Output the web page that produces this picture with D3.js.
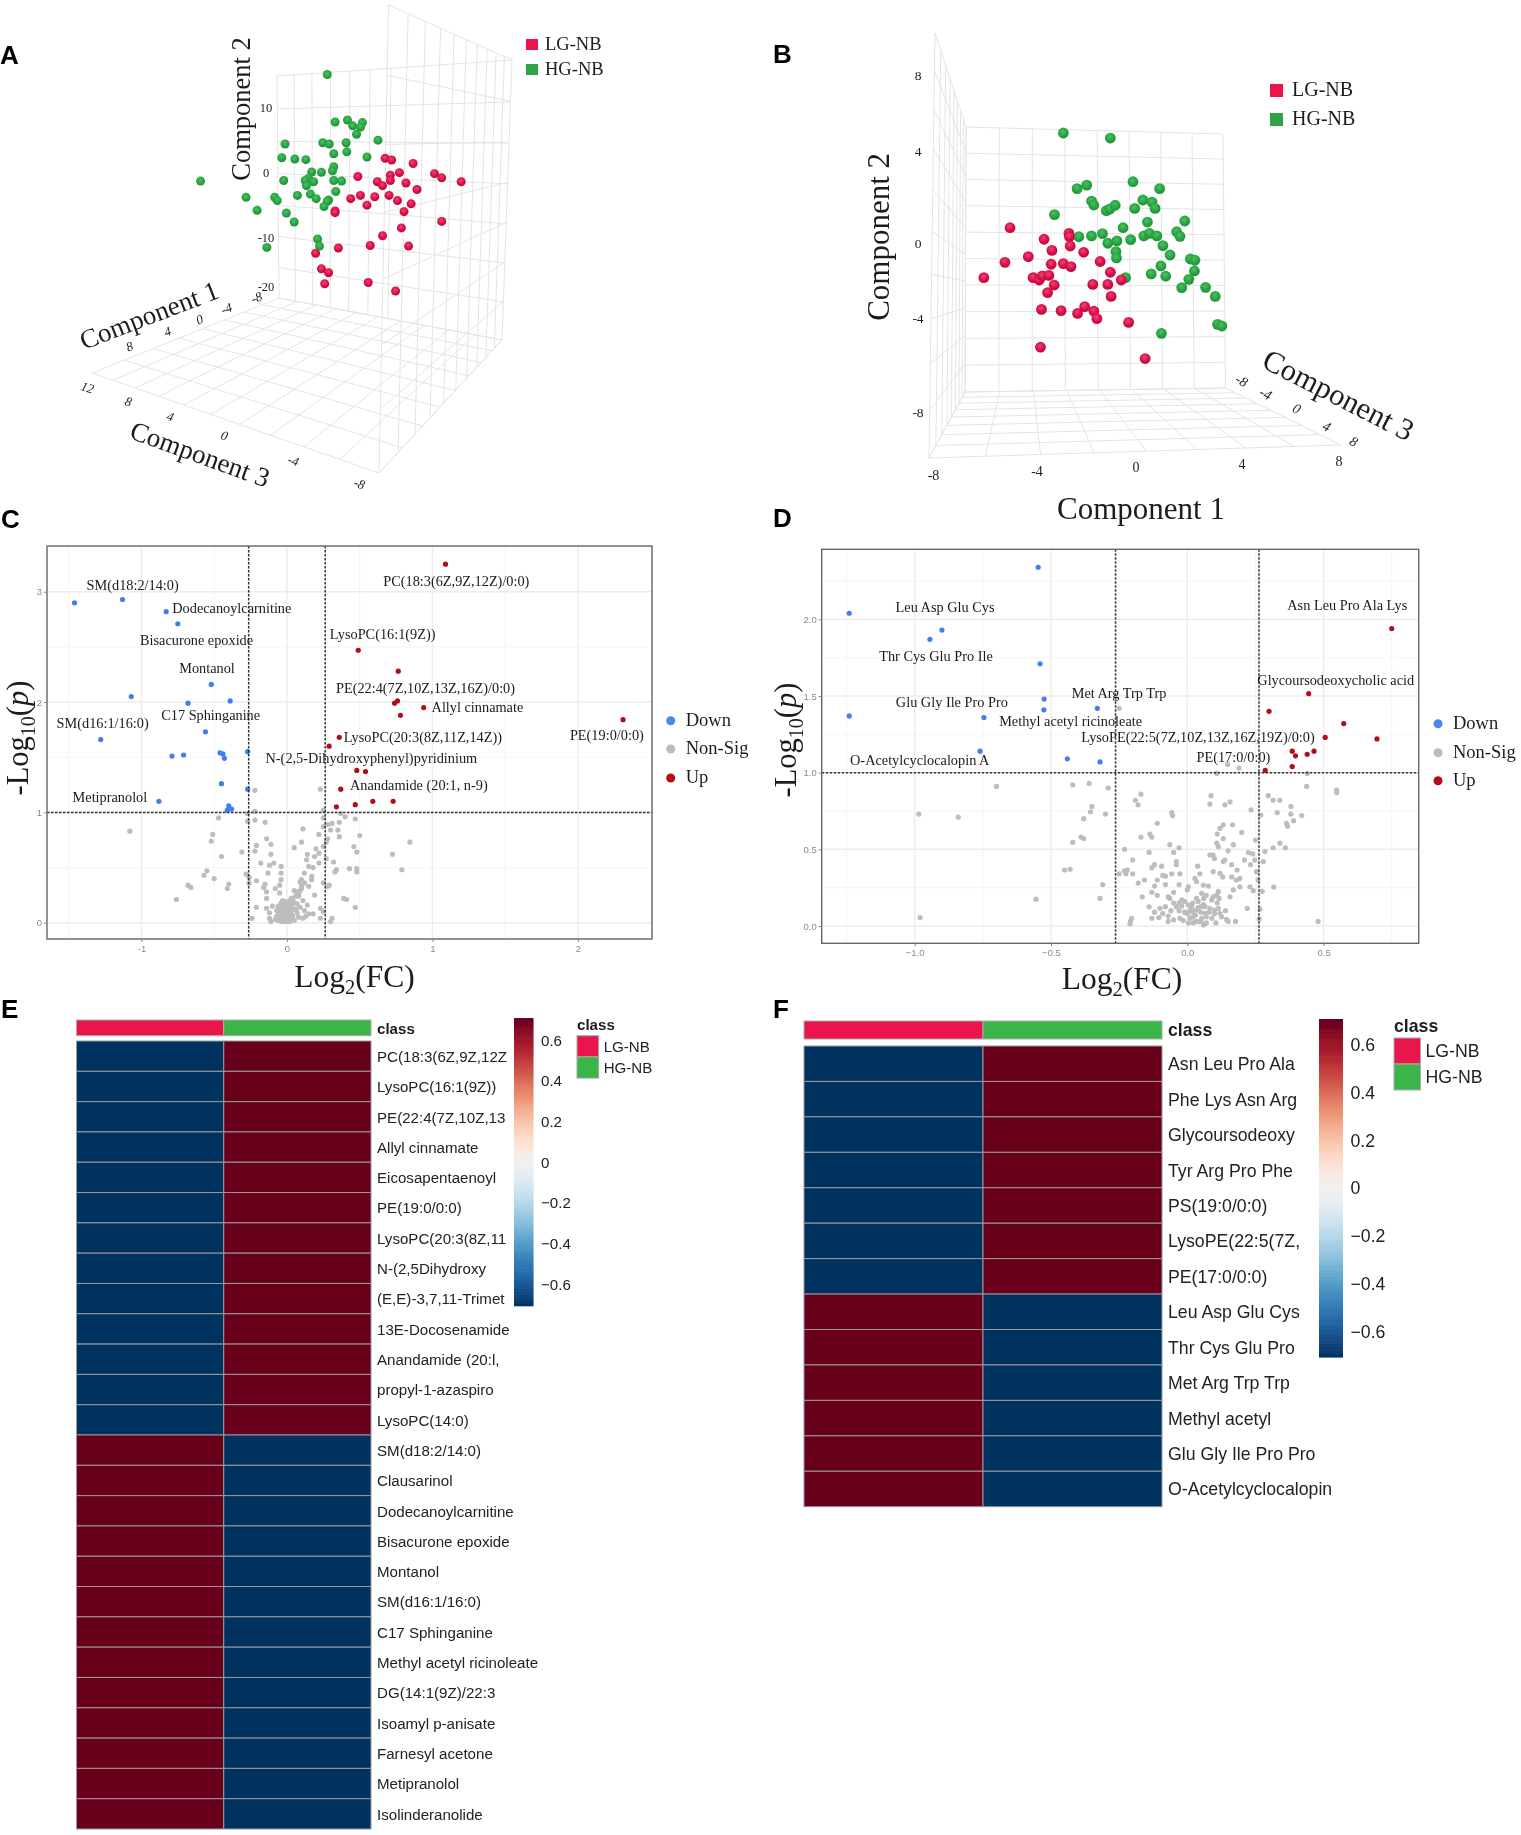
<!DOCTYPE html>
<html><head><meta charset="utf-8">
<script src="https://cdn.jsdelivr.net/npm/d3@7"></script>
<style>html,body{margin:0;padding:0;background:#fff}svg{display:block}</style>
</head><body><svg id="fig" width="1521" height="1835" xmlns="http://www.w3.org/2000/svg"></svg>
<script>
// ---------- Panel A: projected score positions [component 1, component 2]
const aGreen=[[4.2,15.2],[5.4,7.9],[7.3,8.2],[8.1,7.3],[9.6,7.8],[9.3,7.1],[8.7,6.0],[12.0,5.1],[7.1,4.7],[3.5,4.7],[4.5,4.5],[-2.3,4.5],[7.2,3.3],[5.2,3.0],[10.3,2.5],[-2.8,2.4],[-0.8,2.2],[0.9,2.1],[5.2,1.0],[5.0,0.4],[3.3,0.15],[1.8,0.2],[1.3,-0.8],[0.8,-1.1],[2.1,-1.3],[1.0,-1.9],[-2.5,-1.1],[5.2,-1.1],[6.4,-1.2],[-15.3,-1.2],[5.5,-2.8],[1.6,-3.2],[2.5,-3.9],[-0.4,-3.4],[-3.9,-3.7],[-3.5,-4.2],[-8.3,-3.7],[4.4,-4.1],[4.2,-4.3],[3.7,-5.1],[-6.6,-5.7],[-2.1,-6.1],[-0.9,-7.5],[2.7,-10.1],[3.0,-11.2],[-5.1,-11.4]];
const aRed=[[13.1,2.3],[14.1,2.05],[17.4,1.5],[15.3,0.1],[13.9,-0.3],[13.9,-1.1],[20.7,-0.05],[21.8,-0.7],[24.8,-1.3],[8.9,-0.5],[11.9,-1.3],[12.7,-1.9],[16.3,-1.5],[18,-2.5],[7.8,-3.9],[9.3,-3.4],[11.5,-3.6],[13.7,-3.4],[15,-4.2],[10.3,-4.9],[17.1,-4.7],[5.4,-5.8],[5.4,-6.05],[16,-5.9],[21.8,-7.4],[15.6,-8.4],[12.7,-9.6],[16.7,-11.2],[10.8,-11.1],[5.9,-11.5],[2.4,-12.3],[3.3,-14.7],[4.4,-15.3],[3.8,-17],[10.5,-16.8],[14.7,-18.1]];
// ---------- Panel B: projected score positions [component 1, component 2]
const bGreen=[[-2.86,5.3],[-1.01,5.06],[-0.12,2.98],[0.93,2.65],[-2.32,2.65],[-1.94,2.82],[-1.75,2.06],[-1.66,1.87],[-1.17,1.6],[-1.03,1.68],[-0.82,1.86],[0.27,2.11],[0.63,2.01],[0.75,1.71],[-0.05,1.71],[-3.21,1.41],[1.92,1.11],[0.45,1.06],[-0.51,0.79],[-2.25,0.36],[-1.75,0.4],[-1.32,0.51],[-1.11,0.05],[-0.75,0.16],[-0.21,0.22],[0.31,0.4],[0.53,0.52],[0.82,0.4],[1.6,0.6],[1.73,0.38],[1.06,-0.06],[-0.79,-0.35],[-0.77,-0.65],[1.34,-0.51],[2.14,-0.7],[2.32,-0.76],[0.98,-1.03],[2.3,-1.27],[0.6,-1.41],[1.17,-1.52],[-0.41,-1.59],[2.08,-1.67],[1.8,-2.06],[2.74,-2.05],[3.12,-2.48],[3.21,-3.81],[3.38,-3.89],[1,-4.24]];
const bRed=[[-4.96,0.79],[-2.64,0.52],[-2.62,0.36],[-3.62,0.24],[-2.59,-0.08],[-3.31,-0.29],[-2.06,-0.38],[-4.24,-0.59],[-5.16,-0.86],[-1.41,-0.82],[-3.34,-0.95],[-2.86,-0.92],[-2.56,-1.06],[-5.99,-1.59],[-4.05,-1.59],[-3.81,-1.7],[-3.69,-1.51],[-3.43,-1.48],[-1.01,-1.33],[-0.58,-1.7],[-3.22,-1.94],[-1.7,-1.91],[-1.11,-1.91],[-3.48,-2.3],[-0.98,-2.48],[-3.72,-3.1],[-2.95,-3.16],[-2.3,-3.29],[-2.02,-2.97],[-1.66,-3.18],[-1.54,-3.54],[-0.29,-3.72],[-3.76,-4.9],[0.36,-5.44]];
// ---------- Panel C: volcano [log2FC, -log10 p]
const cDown=[[-1.46,2.9],[-1.13,2.93],[-0.83,2.82],[-0.75,2.71],[-0.52,2.16],[-1.07,2.05],[-0.39,2.01],[-0.68,1.99],[-0.56,1.73],[-1.28,1.66],[-0.79,1.51],[-0.71,1.52],[-0.46,1.54],[-0.44,1.53],[-0.43,1.49],[-0.27,1.55],[-0.45,1.26],[-0.27,1.21],[-0.88,1.1],[-0.4,1.06],[-0.38,1.03],[-0.41,1.02]];
const cUp=[[1.09,3.25],[0.49,2.47],[0.765,2.28],[0.74,1.99],[0.76,2.01],[0.94,1.95],[0.78,1.88],[2.31,1.84],[0.36,1.68],[0.29,1.6],[0.48,1.38],[0.54,1.37],[0.37,1.21],[0.34,1.05],[0.47,1.07],[0.59,1.1],[0.73,1.1]];
const cNon=[[-1.08,0.83],[-0.22,1.2],[0.23,1.21],[-0.47,0.95],[-0.51,0.8],[-0.52,0.74],[-0.45,0.6],[-0.31,0.64],[-0.55,0.47],[-0.57,0.43],[-0.5,0.4],[-0.68,0.34],[-0.66,0.32],[-0.76,0.21],[-0.4,0.35],[-0.41,0.31],[-0.28,0.44],[-0.26,0.41],[-0.26,0.36],[-0.27,0.92],[-0.27,0.99],[-0.22,1.01],[-0.22,0.93],[-0.15,0.91],[-0.21,0.7],[-0.22,0.65],[-0.14,0.76],[-0.11,0.71],[-0.11,0.62],[-0.18,0.54],[-0.12,0.52],[-0.09,0.54],[-0.13,0.45],[-0.04,0.51],[-0.04,0.45],[-0.04,0.39],[-0.21,0.38],[-0.15,0.35],[-0.16,0.32],[-0.14,0.28],[-0.14,0.22],[-0.08,0.31],[-0.05,0.34],[-0.05,0.27],[-0.21,0.14],[-0.14,0.13],[-0.24,0.04],[-0.12,0.04],[-0.11,0.01],[0.05,0.68],[0.1,0.73],[0.11,0.85],[0.22,0.8],[0.25,0.87],[0.28,0.89],[0.31,0.9],[0.3,0.84],[0.28,0.76],[0.27,0.73],[0.25,0.69],[0.22,0.63],[0.19,0.6],[0.135,0.57],[0.15,0.51],[0.22,0.54],[0.27,0.58],[0.32,0.55],[0.34,0.48],[0.33,0.46],[0.43,0.49],[0.48,0.49],[0.48,0.46],[0.46,0.69],[0.48,0.64],[0.5,0.79],[0.47,0.94],[0.4,0.96],[0.36,0.91],[0.35,0.84],[0.36,0.78],[0.37,0.99],[0.25,1.02],[0.25,0.95],[0.845,0.73],[0.725,0.62],[0.79,0.48],[0.1,0.39],[0.17,0.42],[0.17,0.39],[0.15,0.33],[0.1,0.31],[0.07,0.28],[0.04,0.21],[0.08,0.24],[0.19,0.25],[0.28,0.33],[0.29,0.34],[0.25,0.36],[0.39,0.22],[0.41,0.21],[0.47,0.14],[0.23,0.13],[0.25,0.1],[0.15,0.08],[0.18,0.08],[0.11,0.04],[0.23,0.04],[0.3,0.01],[0.31,0.04],[0.18,0.5],[0.14,0.62],[0.2,0.67],[0.12,0.45],[0.09,0.37],
[-0.08,0.03],[-0.07,0.06],[-0.07,0.11],[-0.06,0.02],[-0.06,0.15],[-0.05,0.04],[-0.05,0.09],[-0.05,0.13],[-0.04,0.01],[-0.04,0.07],[-0.04,0.11],[-0.04,0.18],[-0.03,0.03],[-0.03,0.05],[-0.03,0.09],[-0.03,0.14],[-0.03,0.2],[-0.02,0.01],[-0.02,0.06],[-0.02,0.12],[-0.02,0.16],[-0.01,0.02],[-0.01,0.04],[-0.01,0.08],[-0.01,0.1],[-0.01,0.13],[-0.01,0.19],[0,0.01],[0,0.03],[0,0.06],[0,0.09],[0,0.11],[0,0.15],[0.01,0.02],[0.01,0.04],[0.01,0.07],[0.01,0.12],[0.01,0.17],[0.02,0.01],[0.02,0.05],[0.02,0.09],[0.02,0.14],[0.03,0.03],[0.03,0.08],[0.03,0.11],[0.03,0.16],[0.03,0.22],[0.04,0.06],[0.04,0.13],[0.05,0.18],[0.05,0.02],[0.06,0.12],[0.06,0.24],[0.07,0.09],[0.07,0.17],[0.08,0.26],[0.09,0.14],[0.09,0.29],[0.1,0.33],[0.11,0.2],[0.12,0.11],[0.13,0.06],[0.14,0.16],[0.12,0.36],[-0.1,0.15],[-0.12,0.09],[0.05,0.29],[0.02,0.2],[0.08,0.05]];
// ---------- Panel D: volcano [log2FC, -log10 p]
const dDown=[[-0.547,2.34],[-1.24,2.04],[-0.9,1.93],[-0.944,1.87],[-0.54,1.71],[-0.525,1.48],[-0.526,1.41],[-0.33,1.42],[-1.24,1.37],[-0.746,1.36],[-0.76,1.14],[-0.44,1.09],[-0.32,1.07]];
const dUp=[[0.75,1.94],[0.445,1.515],[0.3,1.4],[0.574,1.32],[0.506,1.23],[0.696,1.22],[0.385,1.14],[0.465,1.14],[0.44,1.12],[0.397,1.11],[0.385,1.04],[0.286,1.015]];
const dNon=[[-0.25,1.42],[-0.7,0.91],[-0.985,0.73],[-0.84,0.71],[-0.98,0.055],[-0.42,0.92],[-0.36,0.93],[-0.29,0.9],[-0.35,0.78],[-0.355,0.745],[-0.38,0.7],[-0.3,0.73],[-0.42,0.545],[-0.39,0.58],[-0.38,0.57],[-0.45,0.365],[-0.43,0.37],[-0.555,0.175],[-0.31,0.27],[-0.32,0.18],[-0.23,0.5],[-0.2,0.43],[-0.25,0.34],[-0.23,0.36],[-0.22,0.365],[-0.225,0.34],[-0.2,0.34],[-0.18,0.28],[-0.157,0.3],[-0.165,0.19],[-0.14,0.125],[-0.204,0.05],[-0.21,0.015],[-0.208,0.03],[-0.17,0.86],[-0.19,0.82],[-0.18,0.79],[-0.11,0.67],[-0.17,0.58],[-0.137,0.6],[-0.13,0.58],[-0.14,0.48],[-0.13,0.38],[-0.12,0.4],[-0.11,0.3],[-0.12,0.26],[-0.1,0.115],[-0.104,0.055],[-0.057,0.74],[-0.054,0.72],[-0.064,0.53],[-0.03,0.51],[-0.05,0.48],[-0.04,0.42],[-0.094,0.39],[-0.04,0.4],[-0.057,0.34],[-0.027,0.34],[-0.08,0.325],[-0.08,0.27],[0.004,0.256],[0,0.235],[-0.08,0.126],[-0.07,0.19],[-0.05,0.22],[-0.064,0.18],[-0.04,0.126],[-0.02,0.17],[-0.01,0.16],[0.004,0.137],[0.016,0.126],[0.02,0.093],[0.034,0.104],[0.05,0.126],[0.065,0.126],[0.083,0.115],[0.1,0.104],[0.114,0.115],[0.12,0.083],[0.126,0.06],[0.065,0.083],[0.053,0.05],[0.06,0.007],[0.04,0.028],[0.022,0.02],[0.004,0.02],[-0.015,0.035],[-0.027,0.05],[-0.05,0.04],[-0.07,0.065],[0.034,0.18],[0.053,0.213],[0.07,0.2],[0.095,0.19],[0.09,0.17],[0.114,0.224],[0.108,0.2],[0.059,0.267],[0.077,0.26],[0.034,0.29],[0.028,0.31],[0.046,0.34],[0.038,0.39],[0.095,0.354],[0.12,0.344],[0.13,0.32],[0.163,0.32],[0.18,0.3],[0.193,0.31],[0.183,0.365],[0.163,0.4],[0.132,0.42],[0.138,0.43],[0.095,0.463],[0.083,0.463],[0.1,0.44],[0.15,0.49],[0.108,0.54],[0.114,0.517],[0.169,0.53],[0.132,0.57],[0.11,0.6],[0.12,0.637],[0.132,0.66],[0.166,0.66],[0.2,0.61],[0.087,0.85],[0.083,0.795],[0.138,0.79],[0.157,0.81],[0.234,0.757],[0.27,0.724],[0.25,0.56],[0.224,0.478],[0.24,0.47],[0.21,0.43],[0.248,0.43],[0.232,0.4],[0.279,0.42],[0.285,0.485],[0.254,0.354],[0.26,0.3],[0.23,0.256],[0.193,0.256],[0.169,0.235],[0.157,0.19],[0.117,0.18],[0.242,0.23],[0.275,0.226],[0.22,0.115],[0.267,0.11],[0.264,0.046],[0.144,0.043],[0.15,0.03],[0.177,0.03],[0.105,0.02],[0.317,0.254],[0.315,0.51],[0.34,0.54],[0.36,0.51],[0.297,0.85],[0.315,0.82],[0.34,0.82],[0.38,0.78],[0.33,0.74],[0.38,0.73],[0.42,0.72],[0.39,0.687],[0.364,0.67],[0.368,0.65],[0.438,0.91],[0.548,0.887],[0.548,0.87],[0.44,0.995],[0.108,0.995],[0.148,1.054],[0.19,1.03],[0.48,0.03],
[-0.03,0.1],[-0.02,0.13],[0,0.08],[0.01,0.1],[0.02,0.15],[0.03,0.07],[0.04,0.12],[0.05,0.09],[0.06,0.14],[0.07,0.06],[0.08,0.09],[0.09,0.05],[0.1,0.08],[0.03,0.03],[0.05,0.03],[0.07,0.02],[0.01,0.05],[-0.01,0.09],[-0.03,0.15],[-0.06,0.1],[-0.05,0.15],[-0.09,0.08],[-0.12,0.09],[-0.07,0.03],[-0.13,0.05],[0.04,0.16],[0.06,0.18],[0.02,0.06],[0.11,0.15],[0.14,0.1],[-0.03,0.27],[-0.11,0.2],[-0.09,0.33],[-0.13,0.22]];
// ---------- Volcano labels [text, log2FC at text start, -log10 p at text middle]
const cLabels=[["SM(d18:2/14:0)",-1.377,3.06],["Dodecanoylcarnitine",-0.788,2.85],["Bisacurone epoxide",-1.01,2.56],["Montanol",-0.74,2.305],["C17 Sphinganine",-0.864,1.876],["SM(d16:1/16:0)",-1.583,1.81],["Metipranolol",-1.473,1.14],["N-(2,5-Dihydroxyphenyl)pyridinium",-0.147,1.49],["LysoPC(16:1(9Z))",0.295,2.61],["PE(22:4(7Z,10Z,13Z,16Z)/0:0)",0.337,2.12],["LysoPC(20:3(8Z,11Z,14Z))",0.39,1.68],["Anandamide (20:1, n-9)",0.433,1.24],["PC(18:3(6Z,9Z,12Z)/0:0)",0.662,3.09],["Allyl cinnamate",0.994,1.95],["PE(19:0/0:0)",1.945,1.695]];
const dLabels=[["Leu Asp Glu Cys",-1.07,2.08],["Thr Cys Glu Pro Ile",-1.13,1.757],["Glu Gly Ile Pro Pro",-1.069,1.46],["O-Acetylcyclocalopin A",-1.237,1.08],["Met Arg Trp Trp",-0.424,1.517],["Methyl acetyl ricinoleate",-0.69,1.337],["LysoPE(22:5(7Z,10Z,13Z,16Z,19Z)/0:0)",-0.389,1.233],["PE(17:0/0:0)",0.034,1.1],["Glycoursodeoxycholic acid",0.257,1.604],["Asn Leu Pro Ala Lys",0.367,2.09]];
const volcanoClasses=["Down","Non-Sig","Up"];
const classNames=["LG-NB","HG-NB"];
// ---------- Heatmaps
const eRows=["PC(18:3(6Z,9Z,12Z","LysoPC(16:1(9Z))","PE(22:4(7Z,10Z,13","Allyl cinnamate","Eicosapentaenoyl","PE(19:0/0:0)","LysoPC(20:3(8Z,11","N-(2,5Dihydroxy","(E,E)-3,7,11-Trimet","13E-Docosenamide","Anandamide (20:l,","propyl-1-azaspiro","LysoPC(14:0)","SM(d18:2/14:0)","Clausarinol","Dodecanoylcarnitine","Bisacurone epoxide","Montanol","SM(d16:1/16:0)","C17 Sphinganine","Methyl acetyl ricinoleate","DG(14:1(9Z)/22:3","Isoamyl p-anisate","Farnesyl acetone","Metipranolol","Isolinderanolide"];
const eLG=[-.7071,-.7071,-.7071,-.7071,-.7071,-.7071,-.7071,-.7071,-.7071,-.7071,-.7071,-.7071,-.7071,.7071,.7071,.7071,.7071,.7071,.7071,.7071,.7071,.7071,.7071,.7071,.7071,.7071];
const eHG=[.7071,.7071,.7071,.7071,.7071,.7071,.7071,.7071,.7071,.7071,.7071,.7071,.7071,-.7071,-.7071,-.7071,-.7071,-.7071,-.7071,-.7071,-.7071,-.7071,-.7071,-.7071,-.7071,-.7071];
const fRows=["Asn Leu Pro Ala","Phe Lys Asn Arg","Glycoursodeoxy","Tyr Arg Pro Phe","PS(19:0/0:0)","LysoPE(22:5(7Z,","PE(17:0/0:0)","Leu Asp Glu Cys","Thr Cys Glu Pro","Met Arg Trp Trp","Methyl acetyl","Glu Gly Ile Pro Pro","O-Acetylcyclocalopin"];
const fLG=[-.7071,-.7071,-.7071,-.7071,-.7071,-.7071,-.7071,.7071,.7071,.7071,.7071,.7071,.7071];
const fHG=[.7071,.7071,.7071,.7071,.7071,.7071,.7071,-.7071,-.7071,-.7071,-.7071,-.7071,-.7071];
const heatTicks=[.6,.4,.2,0,-.2,-.4,-.6];

const SERIF='"Liberation Serif","Times New Roman",serif', SANS='"Liberation Sans",Arial,sans-serif';
const RED='#E8194B', GREEN='#3BB54A';
const svg=d3.select('#fig');
svg.append('rect').attr('width',1521).attr('height',1835).attr('fill','#fff');
const defs=svg.append('defs');
function grad(id,hi,mid,lo){const g=defs.append('radialGradient').attr('id',id).attr('cx','45%').attr('cy','38%').attr('r','65%');
 g.append('stop').attr('offset','0%').attr('stop-color',hi);g.append('stop').attr('offset','55%').attr('stop-color',mid);g.append('stop').attr('offset','100%').attr('stop-color',lo);}
grad('sRed','#f0476f','#d9124a','#b80b3c');grad('sGreen','#4cc160','#2aa544','#1d8c36');
defs.append('filter').attr('id','soft').attr('x',0).attr('y',0).attr('width','100%').attr('height','100%').attr('filterUnits','userSpaceOnUse').append('feGaussianBlur').attr('stdDeviation',0.45);
const root=svg.append('g').attr('filter','url(#soft)');
function txt(g,x,y,s,o={}){const yy=o.b?y:y+(o.f===SANS?1.8:0.9);const t=g.append('text').attr('x',x).attr('y',yy).text(s)
 .attr('font-family',o.f||SERIF).attr('font-size',o.s||14).attr('fill',o.c||'#1c1c1c').attr('text-anchor',o.a||'start').attr('dominant-baseline',o.b||'middle');
 if(o.w)t.attr('font-weight',o.w);if(o.i)t.attr('font-style','italic');
 if(o.r!==undefined)t.attr('transform',`rotate(${o.r} ${x} ${yy})`);return t;}
// panel letters
[['A',0,64],['B',773,63],['C',1,528],['D',773,527],['E',1,1018],['F',773,1018]].forEach(d=>txt(root,d[1],d[2],d[0],{f:SANS,s:26,w:'bold',c:'#000',b:'auto'}));

// ---------- 3D grids
function homography(q){const [[x0,y0],[x1,y1],[x2,y2],[x3,y3]]=q;
 const dx1=x1-x2,dx2=x3-x2,sx=x0-x1+x2-x3,dy1=y1-y2,dy2=y3-y2,sy=y0-y1+y2-y3,den=dx1*dy2-dx2*dy1;
 const g=(sx*dy2-dx2*sy)/den,h=(dx1*sy-sx*dy1)/den,a=x1-x0+g*x1,b=x3-x0+h*x3,d=y1-y0+g*y1,e=y3-y0+h*y3;
 return (u,v)=>{const w=g*u+h*v+1;return [(a*u+b*v+x0)/w,(d*u+e*v+y0)/w];};}
const gridLine=d3.line();
function grid3d(g,q,nu,nv,uMax=1){const H=homography(q),L=[];
 d3.range(nu+1).forEach(i=>{if(i/nu<=uMax)L.push([H(i/nu,0),H(i/nu,1)]);});
 d3.range(nv+1).forEach(j=>L.push([H(0,j/nv),H(1,j/nv)]));
 g.append('g').selectAll('path').data(L).join('path').attr('d',gridLine).attr('fill','none').attr('stroke','#e4e4e4').attr('stroke-width',1);}
function spheres(g,data,x,y,id,r){g.append('g').selectAll('circle').data(data).join('circle').attr('cx',d=>x(d[0])).attr('cy',d=>y(d[1])).attr('r',r).attr('fill',`url(#${id})`);}
function legend3d(g,x,ys,tx,sz,fs,h){classNames.forEach((n,i)=>{g.append('rect').attr('x',x).attr('y',ys[i]-h/2).attr('width',sz).attr('height',h).attr('fill',i?'#2DA544':RED);
 txt(g,tx,ys[i],n,{s:fs});});}

// Panel A
const gA=root.append('g');
grid3d(gA,[[277,76],[512,60],[502,340],[279,298]],11,7,6/11);
grid3d(gA,[[388.5,5],[512,60],[502,340],[379,473]],10,7);
grid3d(gA,[[92,373],[279,298],[502,340],[379,473]],8,10);
const ax=d3.scaleLinear().domain([-30,30]).range([105,495]), ay=d3.scaleLinear().domain([-20,20]).range([303.3,43.3]);
spheres(gA,aGreen,ax,ay,'sGreen',4.5);spheres(gA,aRed,ax,ay,'sRed',4.5);
[["10",266,108],["0",266,173],["-10",266,238],["-20",266,287]].forEach(t=>txt(gA,t[1],t[2],t[0],{s:12.5,a:'middle'}));
[["-8",257,298],["-4",227,309],["0",200,320],["4",168,332],["8",130,347]].forEach(t=>txt(gA,t[1],t[2],t[0],{s:13,a:'middle',i:1,r:-20}));
[["12",87,388],["8",128,402],["4",170,417],["0",224,436],["-4",293,461],["-8",359,484]].forEach(t=>txt(gA,t[1],t[2],t[0],{s:13,a:'middle',i:1,r:18}));
txt(gA,244,108,'Component 2',{s:26.5,a:'middle',r:-90});
txt(gA,150,317,'Component 1',{s:27,a:'middle',r:-21});
txt(gA,199,456,'Component 3',{s:27,a:'middle',r:20});
legend3d(gA,526,[44.5,69.5],545,12,18.5,11);

// Panel B
const gB=root.append('g');
grid3d(gB,[[966,127],[1223,134],[1225.5,388],[965,392]],8,10);
grid3d(gB,[[935,33],[966,127],[965,392],[929,458]],8,10);
grid3d(gB,[[965,392],[1225.5,388],[1341,445],[929,458]],8,8);
const bx=d3.scaleLinear().domain([-8,8]).range([932.8,1339.2]), by=d3.scaleLinear().domain([-8,8]).range([412.3,76.3]);
spheres(gB,bGreen,bx,by,'sGreen',5.4);spheres(gB,bRed,bx,by,'sRed',5.4);
[["8",918,76],["4",918,152],["0",918,244],["-4",918,319],["-8",918,413]].forEach(t=>txt(gB,t[1],t[2],t[0],{s:13.5,a:'middle'}));
[["-8",933.5,476],["-4",1037,472],["0",1136,468],["4",1242,465],["8",1339,462]].forEach(t=>txt(gB,t[1],t[2],t[0],{s:14,a:'middle'}));
[["-8",1241,381],["-4",1265,394],["0",1296,409],["4",1326,427],["8",1353,442]].forEach(t=>txt(gB,t[1],t[2],t[0],{s:14,a:'middle',i:1,r:28}));
txt(gB,882,236,'Component 2',{s:31,a:'middle',r:-90});
txt(gB,1141,511,'Component 1',{s:31,a:'middle'});
txt(gB,1337,397,'Component 3',{s:30.5,a:'middle',r:27});
legend3d(gB,1270,[90.5,119.5],1292,13,20,13);

// ---------- Volcano
function volcano(o){const g=root.append('g');
 const x=d3.scaleLinear().domain(o.xd).range([o.l,o.r]), y=d3.scaleLinear().domain(o.yd).range([o.b,o.t]);
 g.append('g').selectAll('line').data(o.xMinor).join('line').attr('x1',d=>x(d)).attr('x2',d=>x(d)).attr('y1',o.t).attr('y2',o.b).attr('stroke','#f2f2f2').attr('stroke-width',.8);
 g.append('g').selectAll('line').data(o.yMinor).join('line').attr('y1',d=>y(d)).attr('y2',d=>y(d)).attr('x1',o.l).attr('x2',o.r).attr('stroke','#f2f2f2').attr('stroke-width',.8);
 g.append('g').selectAll('line').data(o.xTicks).join('line').attr('x1',d=>x(d)).attr('x2',d=>x(d)).attr('y1',o.t).attr('y2',o.b).attr('stroke','#ececec').attr('stroke-width',1.4);
 g.append('g').selectAll('line').data(o.yTicks).join('line').attr('y1',d=>y(d)).attr('y2',d=>y(d)).attr('x1',o.l).attr('x2',o.r).attr('stroke','#ececec').attr('stroke-width',1.4);
 const dot=(arr,c)=>g.append('g').selectAll('circle').data(arr).join('circle').attr('cx',d=>x(d[0])).attr('cy',d=>y(d[1])).attr('r',2.6).attr('fill',c);
 dot(o.non,'#bdbdbd');dot(o.down,'#3f7ff2');dot(o.up,'#b3101c');
 const dash={stroke:'#333',w:1.5,a:'2.5 1.5'};
 [-.263,.263].forEach(v=>g.append('line').attr('x1',x(v)).attr('x2',x(v)).attr('y1',o.t).attr('y2',o.b).attr('stroke',dash.stroke).attr('stroke-width',dash.w).attr('stroke-dasharray',dash.a));
 g.append('line').attr('x1',o.l).attr('x2',o.r).attr('y1',y(1)).attr('y2',y(1)).attr('stroke',dash.stroke).attr('stroke-width',dash.w).attr('stroke-dasharray',dash.a);
 g.append('rect').attr('x',o.l).attr('y',o.t).attr('width',o.r-o.l).attr('height',o.b-o.t).attr('fill','none').attr('stroke','#666').attr('stroke-width',1.4);
 const ax=g.append('g').attr('transform',`translate(0,${o.b})`).call(d3.axisBottom(x).tickValues(o.xTicks).tickFormat(o.xf).tickSize(3).tickPadding(3));
 const ay=g.append('g').attr('transform',`translate(${o.l},0)`).call(d3.axisLeft(y).tickValues(o.yTicks).tickFormat(o.yf).tickSize(3).tickPadding(2));
 [ax,ay].forEach(a=>{a.select('.domain').remove();a.selectAll('line').attr('stroke','#888');a.selectAll('text').attr('fill','#8a8a8a').attr('font-family',SANS).attr('font-size',9.5);});
 g.append('g').selectAll('text').data(o.labels).join('text').attr('x',d=>x(d[1])).attr('y',d=>y(d[2])+1.3).text(d=>d[0]).attr('font-family',SERIF).attr('font-size',14.3).attr('fill','#1a1a1a').attr('dominant-baseline','middle');
 // titles
 const xt=g.append('text').attr('x',o.xtx).attr('y',o.xty).attr('text-anchor','middle').attr('font-family',SERIF).attr('font-size',31.5).attr('fill','#1a1a1a');
 xt.append('tspan').text('Log');xt.append('tspan').text('2').attr('font-size',20.5).attr('dy',7);xt.append('tspan').text('(FC)').attr('dy',-7);
 const yt=g.append('text').attr('transform',`translate(${o.ytx},${o.yty}) rotate(-90)`).attr('text-anchor','middle').attr('font-family',SERIF).attr('font-size',30.5).attr('fill','#1a1a1a');
 yt.append('tspan').text('-Log');yt.append('tspan').text('10').attr('font-size',20).attr('dy',7);yt.append('tspan').text('(').attr('dy',-7);yt.append('tspan').text('p').attr('font-style','italic');yt.append('tspan').text(')');
 // legend
 const col=['#4a86ee','#bdbdbd','#b3101c'];
 volcanoClasses.forEach((n,i)=>{g.append('circle').attr('cx',o.lx).attr('cy',o.ly[i]).attr('r',4.5).attr('fill',col[i]);txt(g,o.lx+15,o.ly[i],n,{s:18.5});});
}
volcano({l:47,r:652,t:546,b:939,xd:[-1.649,2.509],yd:[-.148,3.415],xTicks:[-1,0,1,2],yTicks:[0,1,2,3],xMinor:[-1.5,-.5,.5,1.5],yMinor:[.5,1.5,2.5],xf:d=>String(d),yf:d=>String(d),down:cDown,up:cUp,non:cNon,labels:cLabels,xtx:354.5,xty:987,ytx:28,yty:738,lx:670.7,ly:[720.7,749,778]});
volcano({l:821.7,r:1418.7,t:549.3,b:943.3,xd:[-1.341,.849],yd:[-.113,2.457],xTicks:[-1,-.5,0,.5],yTicks:[0,.5,1,1.5,2],xMinor:[-1.25,-.75,-.25,.25,.75],yMinor:[.25,.75,1.25,1.75,2.25],xf:d=>d3.format('.1f')(d),yf:d=>d3.format('.1f')(d),down:dDown,up:dUp,non:dNon,labels:dLabels,xtx:1122,xty:989,ytx:796,yty:740,lx:1438,ly:[723.7,752.7,780.7]});

// ---------- Heatmaps
const heatColor=d3.scaleSequential(t=>d3.interpolateRdBu(1-t)).domain([-.7071,.7071]);
function heatmap(o){const g=root.append('g');
 const x=d3.scaleBand().domain(classNames).range([o.l,o.r]);
 const y=d3.scaleBand().domain(o.rows).range([o.t,o.b]);
 const annCol=d3.scaleOrdinal().domain(classNames).range([RED,GREEN]);
 g.append('g').selectAll('rect').data(classNames).join('rect').attr('x',d=>x(d)).attr('y',o.at).attr('width',x.bandwidth()).attr('height',o.ab-o.at).attr('fill',d=>annCol(d)).attr('stroke','#aaa').attr('stroke-width',1);
 txt(g,o.r+6,(o.at+o.ab)/2,'class',{f:SANS,s:o.fs,w:'bold'});
 o.rows.forEach((r,i)=>{
  [o.lg[i],o.hg[i]].forEach((v,k)=>g.append('rect').attr('x',x(classNames[k])).attr('y',y(r)).attr('width',x.bandwidth()).attr('height',y.bandwidth()).attr('fill',heatColor(v)).attr('stroke','#9a9a9a').attr('stroke-width',1));
  txt(g,o.r+6,y(r)+y.bandwidth()/2,r,{f:SANS,s:o.fs,c:'#222'});
 });
 // colour bar
 const cy=d3.scaleLinear().domain([-.7071,.7071]).range([o.cb,o.ct]);
 const steps=d3.range(100).map(i=>-.7071+(i+.5)*1.4142/100);
 g.append('g').selectAll('rect').data(steps).join('rect').attr('x',o.cl).attr('width',o.cr-o.cl).attr('y',d=>cy(d+.00707)).attr('height',(o.cb-o.ct)/100+.6).attr('fill',d=>heatColor(d));
 heatTicks.forEach(t=>txt(g,o.cr+7.5,cy(t),t===0?'0':(t<0?'\u2212':'')+Math.abs(t).toFixed(1),{f:SANS,s:o.fs,c:'#222'}));
 txt(g,o.lgx,o.lgy,'class',{f:SANS,s:o.fs,w:'bold'});
 classNames.forEach((n,i)=>{g.append('rect').attr('x',o.lgx).attr('y',o.lgt+i*o.lgh).attr('width',o.lgw).attr('height',o.lgh).attr('fill',annCol(n)).attr('stroke','#aaa').attr('stroke-width',1);
  txt(g,o.lgx+o.lgw+5,o.lgt+(i+.5)*o.lgh,n,{f:SANS,s:o.fs,c:'#222'});});
}
heatmap({rows:eRows,lg:eLG,hg:eHG,l:76.5,r:371,t:1041,b:1829,at:1020,ab:1035.7,fs:15.1,cl:514,cr:533.5,ct:1018,cb:1305.7,lgx:577,lgy:1024,lgt:1035.7,lgh:21.2,lgw:21.7});
heatmap({rows:fRows,lg:fLG,hg:fHG,l:804,r:1162,t:1046,b:1506.7,at:1021,ab:1039,fs:17.7,cl:1319,cr:1343,ct:1019,cb:1357,lgx:1394,lgy:1026,lgt:1038,lgh:26,lgw:26.5});
</script></body></html>
